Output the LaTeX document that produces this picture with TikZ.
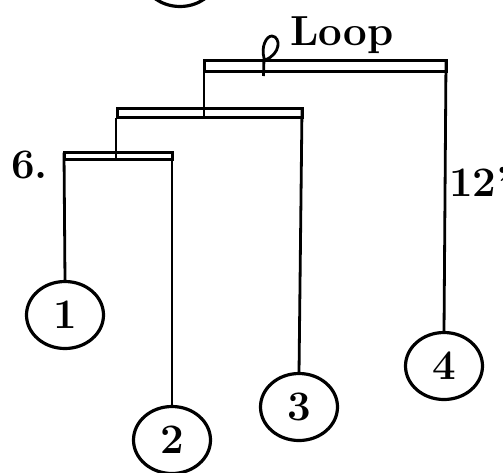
\documentclass[tikz,border=0pt]{standalone}
\usepackage{fontspec}
\usetikzlibrary{shapes.geometric,calc}
\begin{document}
\begin{tikzpicture}[x=1pt,y=-1pt,
  every node/.style={font=\fontsize{42}{46}\selectfont\bfseries},
  ball/.style={draw,ellipse,line width=3.2pt,inner sep=0pt,outer sep=0pt,minimum width=77pt,minimum height=67pt},
  bar/.style={draw,fill=white,rectangle,line width=3pt,inner sep=0pt,outer sep=0pt},
  wire/.style={line width=2.8pt},
  lbl/.style={anchor=base west,inner sep=0pt}]
\useasboundingbox (0,0) rectangle (503,472);
\clip (0,0) rectangle (503,472);
% partial circle at top
\node[ball] (c0) at (180,-27) {};
% bars
\node[bar,minimum width=108pt,minimum height=7pt] (b6) at (118,156) {};
\node[bar,minimum width=185pt,minimum height=9pt] (b2) at (209.5,113) {};
\node[bar,minimum width=242pt,minimum height=10.5pt] (b3) at (325,66) {};
% balls
\node[ball] (c1) at (65,315) {1};
\node[ball] (c2) at (172,440) {2};
\node[ball] (c3) at (299,407) {3};
\node[ball] (c4) at (444,366) {4};
% wires
\draw[wire] (b6.north west) -- (c1.north);
\draw[wire] (b6.north east) -- (c2.north);
\draw[wire] ([xshift=-1pt]b2.south west) -- ([xshift=-1pt]b2.south west |- b6.south);
\draw[wire] (b2.north east) -- (c3.north);
\draw[wire] (b3.north west) -- (b3.north west |- b2.south);
\draw[wire] (b3.north east) -- (c4.north);
% loop
\coordinate (ls) at (263.5,76);
\draw[wire,line join=round] (ls) -- (264,58)
  .. controls (261,47) and (266,36) .. (272,36)
  .. controls (281,37) and (281,54) .. (265,60);
% labels
\node[lbl] (loop) at (290,45) {Loop};
\node[lbl] (six) at (11,178) {6.};
\node[lbl] (twelve) at (449,196) {12"};
\end{tikzpicture}
\end{document}
